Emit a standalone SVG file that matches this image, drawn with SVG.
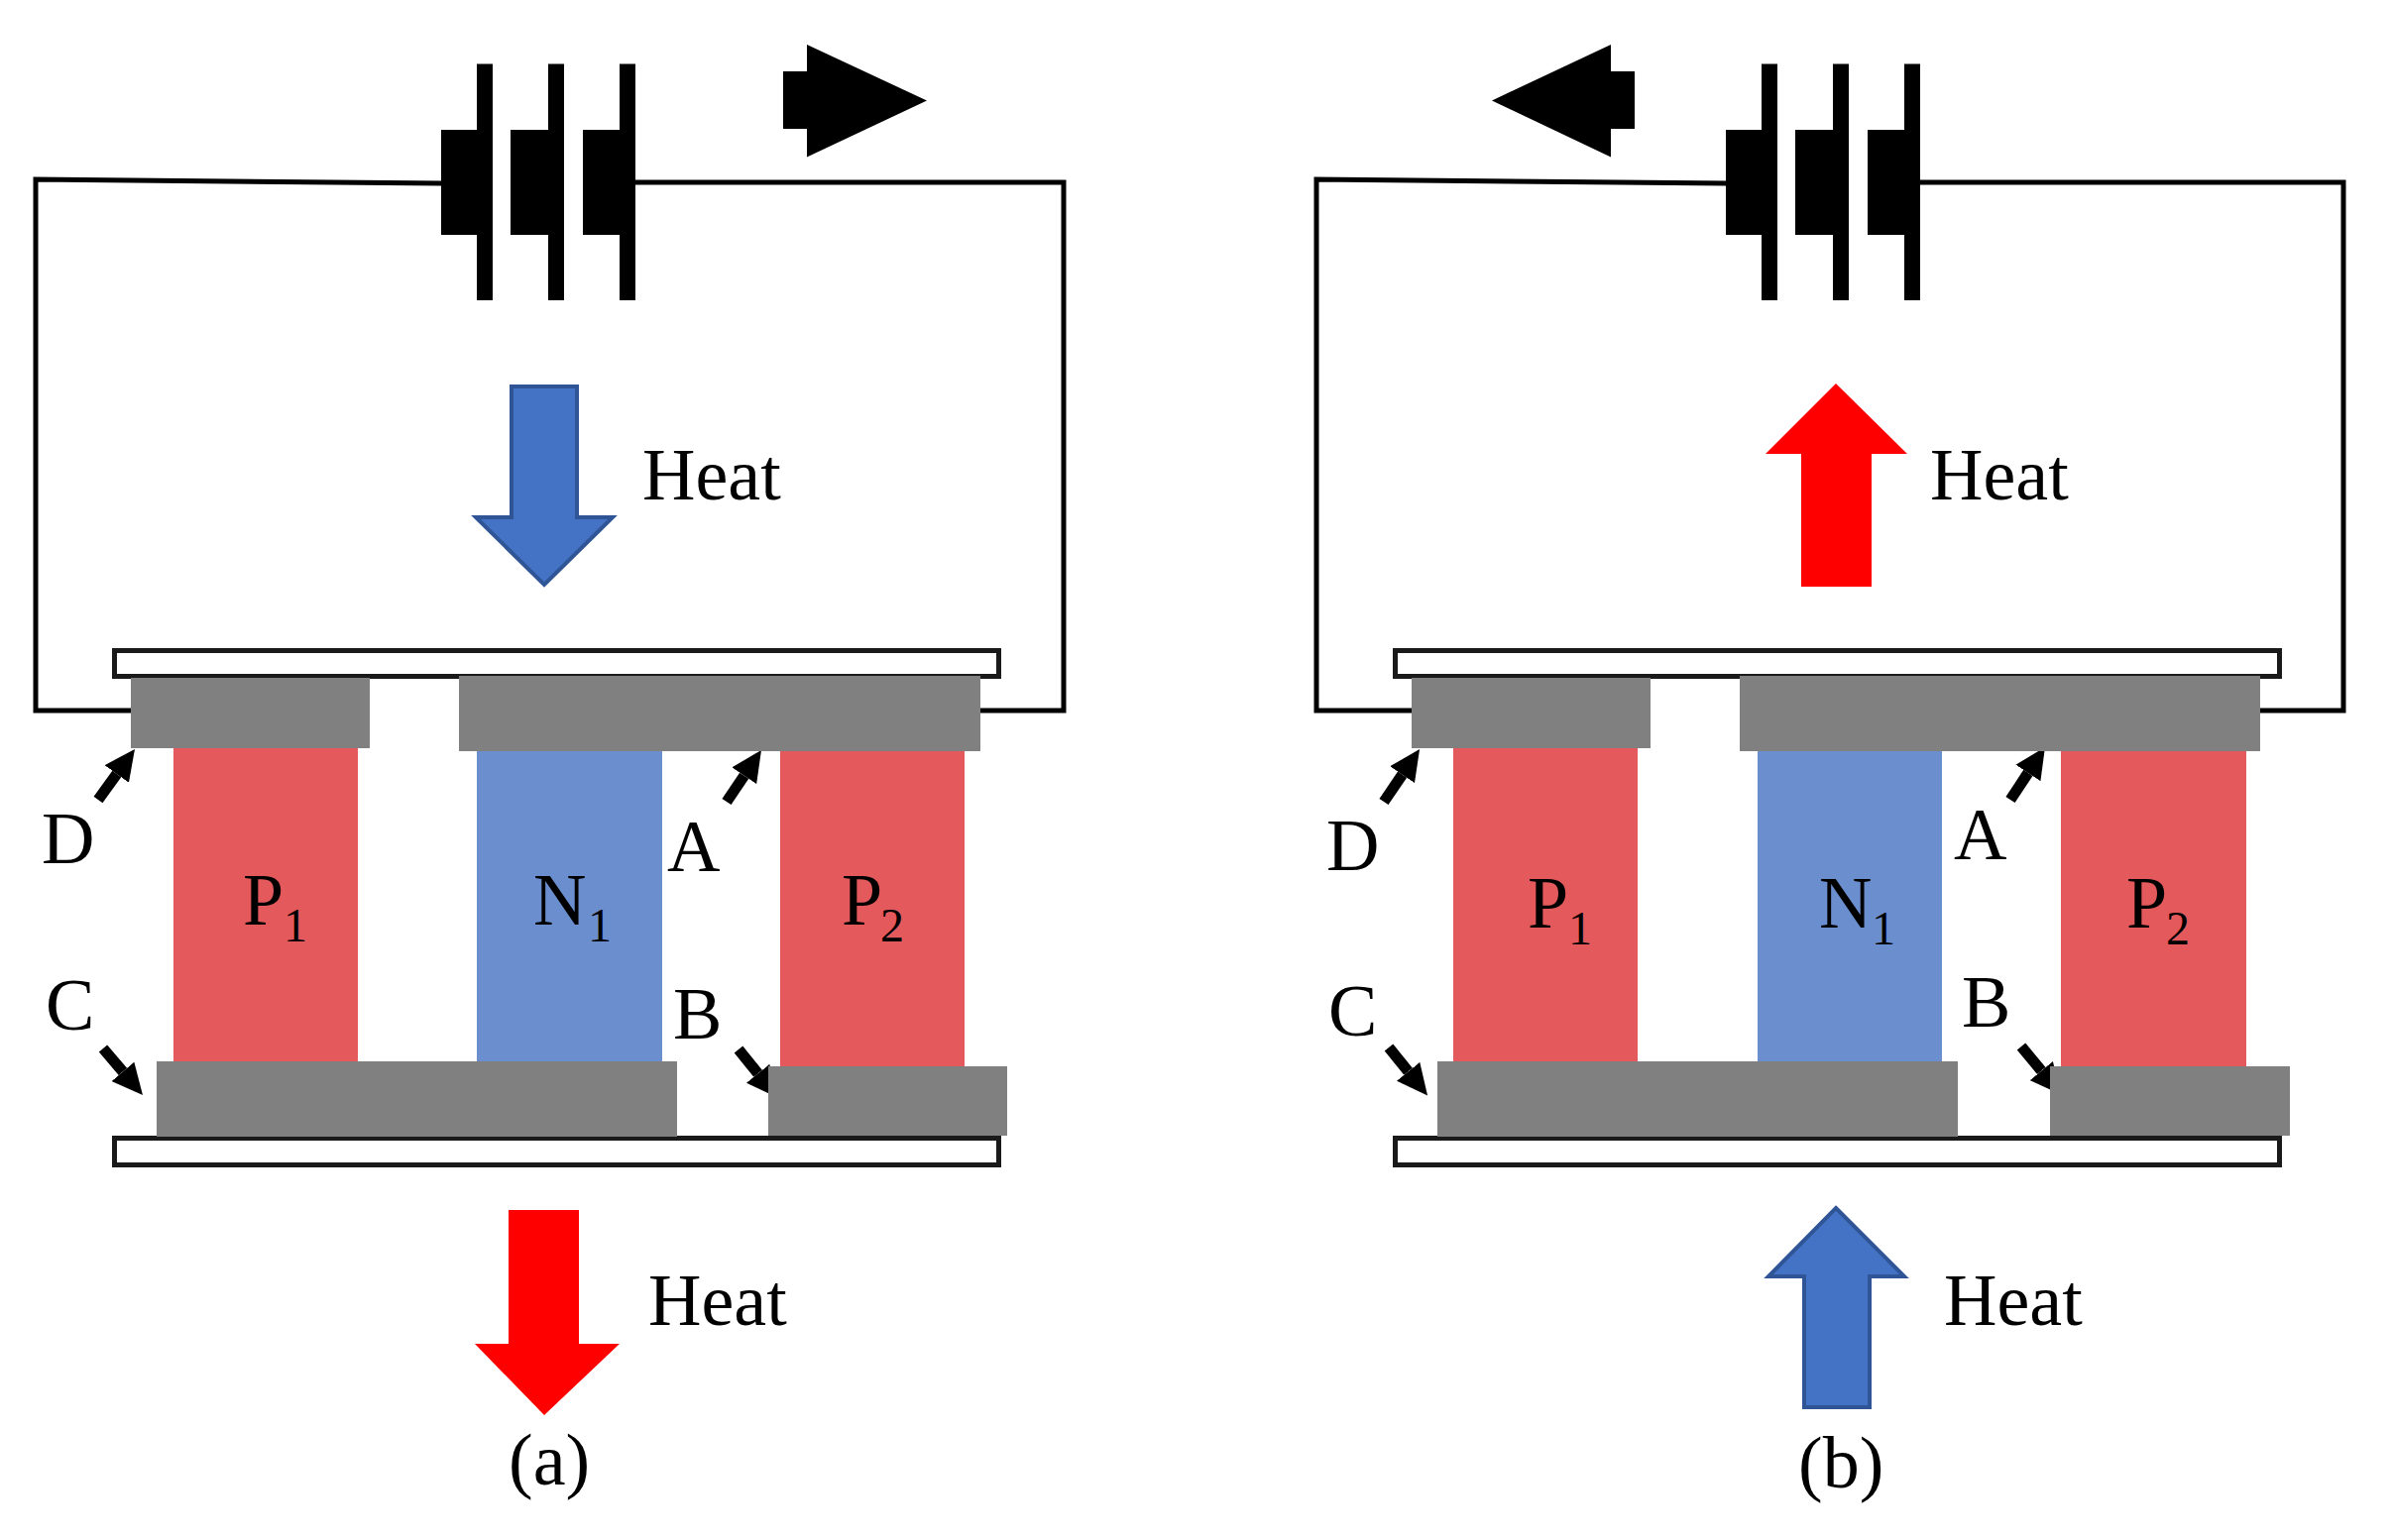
<svg xmlns="http://www.w3.org/2000/svg" width="2414" height="1554" viewBox="0 0 2414 1554">
<style>
text{font-family:"Liberation Serif","Times New Roman",serif;font-size:74px;fill:#000}
.sub{font-size:48px}
.wire{fill:none;stroke:#000;stroke-width:5;stroke-linecap:square}
.plate{fill:#fff;stroke:#1a1a1a;stroke-width:5}
.gray{fill:#808080}
.p{fill:#e4595b}
.n{fill:#6b8ecf}
.bat{fill:#000}
.red{fill:#ff0000}
.blue{fill:#4472c4;stroke:#2f5597;stroke-width:4}
.ptr{stroke:#000;stroke-width:11;fill:none;marker-end:url(#head)}
</style>
<defs>
<marker id="head" markerUnits="userSpaceOnUse" viewBox="0 0 31 30" refX="0" refY="15" markerWidth="31" markerHeight="30" orient="auto"><path d="M0 0L31 15L0 30z" fill="#000"/></marker>
<path id="battery" d="M0 131H36V64.500H52V303H36V237H0ZM70 131H108V64.500H124V303H108V237H70ZM143 131H180V64.500H196V303H180V237H143Z"/>
</defs>
<rect width="2414" height="1554" fill="#fff"/>
<g id="connectors">
<path class="wire" d="M445 185L36 181V717H132M641 184H1073V717H989"/>
<path class="wire" d="M1741 185L1328 181V717H1424M1938 184H2364V717H2280"/>
<line class="ptr" x1="99" y1="807" x2="117.800" y2="781"/>
<line class="ptr" x1="733" y1="809" x2="750.700" y2="782.700"/>
<line class="ptr" x1="104" y1="1058" x2="123.900" y2="1081.400"/>
<line class="ptr" x1="745" y1="1059" x2="764.600" y2="1083.300"/>
<line class="ptr" x1="1396" y1="809" x2="1414.600" y2="781.700"/>
<line class="ptr" x1="2028" y1="807" x2="2045.900" y2="779.900"/>
<line class="ptr" x1="1401" y1="1057" x2="1420.600" y2="1081.300"/>
<line class="ptr" x1="2039" y1="1056" x2="2059.300" y2="1080.600"/>
</g>
<g id="battery-a"><use href="#battery" x="445"/></g>
<g id="battery-b"><use href="#battery" x="1741" transform="translate(0 0)"/></g>
<g id="current-a"><path class="bat" d="M790 72H814V45L935 101.500L814 158.500V130H790Z"/></g>
<g id="current-b"><path class="bat" d="M1649 72H1625V45L1505 101.500L1625 158.500V130H1649Z"/></g>
<g id="heat-top-a"><path class="blue" d="M516 390H582V522H618L549 590L480 522H516Z"/><text x="648" y="504">Heat</text></g>
<g id="heat-bottom-a"><path class="red" d="M513 1229H584V1364H625L549 1436L479 1364H513Z" transform="translate(0 -8)"/><text x="654" y="1337">Heat</text></g>
<g id="heat-top-b"><path class="red" d="M1852 387L1924 458H1888V592H1817V458H1781Z"/><text x="1947" y="504">Heat</text></g>
<g id="heat-bottom-b"><path class="blue" d="M1852 1219L1921 1288H1886V1420H1820V1288H1784Z"/><text x="1961" y="1337">Heat</text></g>
<g id="module-a">
<rect class="plate" x="115.500" y="656.500" width="892" height="26"/>
<rect class="plate" x="115.500" y="1148.500" width="892" height="27"/>
<rect class="p" x="175" y="750" width="186" height="325"/>
<rect class="n" x="481" y="750" width="187" height="325"/>
<rect class="p" x="787" y="750" width="186" height="330"/>
<rect class="gray" x="132" y="684" width="241" height="71"/>
<rect class="gray" x="463" y="682" width="526" height="76"/>
<rect class="gray" x="158" y="1071" width="525" height="76"/>
<rect class="gray" x="775" y="1076" width="241" height="70"/>
</g>
<g id="module-b">
<rect class="plate" x="1407.500" y="656.500" width="892" height="26"/>
<rect class="plate" x="1407.500" y="1148.500" width="892" height="27"/>
<rect class="p" x="1466" y="750" width="186" height="325"/>
<rect class="n" x="1773" y="750" width="186" height="325"/>
<rect class="p" x="2079" y="750" width="187" height="330"/>
<rect class="gray" x="1424" y="684" width="241" height="71"/>
<rect class="gray" x="1755" y="682" width="525" height="76"/>
<rect class="gray" x="1450" y="1071" width="525" height="76"/>
<rect class="gray" x="2068" y="1076" width="242" height="70"/>
</g>
<g id="labels-a">
<text x="42" y="871">D</text>
<text x="673" y="879">A</text>
<text x="46" y="1039">C</text>
<text x="679" y="1048">B</text>
<text x="245" y="933">P</text><text class="sub" x="286" y="950">1</text>
<text x="538" y="933">N</text><text class="sub" x="593" y="950">1</text>
<text x="849" y="933">P</text><text class="sub" x="888" y="950">2</text>
<text x="513" y="1498">(a)</text>
</g>
<g id="labels-b">
<text x="1346" y="878" text-anchor="start" dx="-8">D</text>
<text x="1971" y="867">A</text>
<text x="1340" y="1045">C</text>
<text x="1979" y="1036">B</text>
<text x="1541" y="936">P</text><text class="sub" x="1582" y="953">1</text>
<text x="1835" y="936">N</text><text class="sub" x="1888" y="953">1</text>
<text x="2145" y="936">P</text><text class="sub" x="2185" y="953">2</text>
<text x="1814" y="1501">(b)</text>
</g>
</svg>
